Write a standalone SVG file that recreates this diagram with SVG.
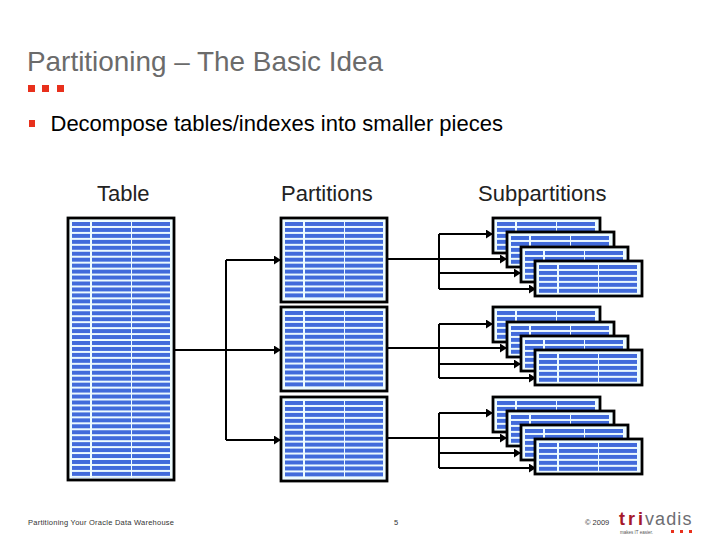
<svg xmlns="http://www.w3.org/2000/svg" width="720" height="540" viewBox="0 0 720 540">
<style>
text{font-family:"Liberation Sans",Arial,sans-serif}
.title{font-size:27.900px;fill:#6b6b6b}
.body{font-size:22px;fill:#000}
.head{font-size:22px;fill:#222}
.foot{font-size:7.500px;fill:#333;letter-spacing:.24px}
.frame{fill:#eefcff;stroke:#000;stroke-width:2.800}
.sq{fill:#e8301c}
.conn{fill:none;stroke:#000;stroke-width:2}
</style>
<defs>
<pattern id="rows" patternUnits="userSpaceOnUse" x="4" y="4" width="100" height="5.950">
<rect x="0" y="0" width="18" height="4" fill="#416bdb"/>
<rect x="20" y="0" width="39" height="4" fill="#416bdb"/>
<rect x="60" y="0" width="38" height="4" fill="#416bdb"/>
</pattern>
<marker id="arr" markerUnits="userSpaceOnUse" markerWidth="8" markerHeight="9" refX="7" refY="4.500" orient="auto">
<path d="M0 0L7 4.500L0 9Z" fill="#000"/>
</marker>
<g id="sub"><rect class="frame" width="107" height="35"/><rect x="4" y="4" width="99" height="28" fill="url(#rows)"/></g>
<g id="part"><rect class="frame" width="106" height="84"/><rect x="4" y="4" width="98" height="77" fill="url(#rows)"/></g>
</defs>

<rect width="720" height="540" fill="#fff"/>
<text class="title" x="27" y="71">Partitioning – The Basic Idea</text>
<g id="title-squares" class="sq">
<rect x="28" y="85" width="7" height="7"/><rect x="42" y="85" width="7" height="7"/><rect x="57" y="85" width="7" height="7"/>
</g>
<rect class="sq" x="29" y="120" width="6" height="7"/>
<text class="body" x="50.500" y="131">Decompose tables/indexes into smaller pieces</text>
<text class="head" x="97" y="201">Table</text>
<text class="head" x="281" y="201">Partitions</text>
<text class="head" x="478" y="201">Subpartitions</text>

<g id="connectors">
<path class="conn" d="M226 260V440"/>
<path class="conn" marker-end="url(#arr)" d="M226 260H281"/>
<path class="conn" marker-end="url(#arr)" d="M174 350H281"/>
<path class="conn" marker-end="url(#arr)" d="M226 440H281"/>

<path class="conn" d="M439 234V289"/>
<path class="conn" marker-end="url(#arr)" d="M439 234H493"/>
<path class="conn" marker-end="url(#arr)" d="M387 259H507"/>
<path class="conn" marker-end="url(#arr)" d="M439 273H521"/>
<path class="conn" marker-end="url(#arr)" d="M439 289H536"/>

<path class="conn" d="M439 324V378"/>
<path class="conn" marker-end="url(#arr)" d="M439 324H493"/>
<path class="conn" marker-end="url(#arr)" d="M387 348H507"/>
<path class="conn" marker-end="url(#arr)" d="M439 364H521"/>
<path class="conn" marker-end="url(#arr)" d="M439 378H536"/>

<path class="conn" d="M439 413V468"/>
<path class="conn" marker-end="url(#arr)" d="M439 413H493"/>
<path class="conn" marker-end="url(#arr)" d="M387 438H507"/>
<path class="conn" marker-end="url(#arr)" d="M439 453H521"/>
<path class="conn" marker-end="url(#arr)" d="M439 468H536"/>
</g>

<g id="table" transform="translate(68 218)"><rect class="frame" width="106" height="262"/><rect x="4" y="4" width="98" height="256" fill="url(#rows)"/></g>

<use id="partition-1" href="#part" x="281" y="218"/>
<use id="partition-2" href="#part" x="281" y="307"/>
<use id="partition-3" href="#part" x="281" y="397"/>

<g id="subpartitions-1">
<use id="sub-1-1" href="#sub" x="493" y="218"/>
<use id="sub-1-2" href="#sub" x="507" y="232"/>
<use id="sub-1-3" href="#sub" x="521" y="247"/>
<use id="sub-1-4" href="#sub" x="535" y="261"/>
</g>
<g id="subpartitions-2">
<use id="sub-2-1" href="#sub" x="493" y="307"/>
<use id="sub-2-2" href="#sub" x="507" y="322"/>
<use id="sub-2-3" href="#sub" x="521" y="336"/>
<use id="sub-2-4" href="#sub" x="535" y="350"/>
</g>
<g id="subpartitions-3">
<use id="sub-3-1" href="#sub" x="493" y="397"/>
<use id="sub-3-2" href="#sub" x="507" y="411"/>
<use id="sub-3-3" href="#sub" x="521" y="425"/>
<use id="sub-3-4" href="#sub" x="535" y="439"/>
</g>

<text class="foot" x="28" y="525">Partitioning Your Oracle Data Warehouse</text>
<text class="foot" x="394" y="525" style="letter-spacing:0">5</text>
<text class="foot" x="585" y="525" style="letter-spacing:0">© 2009</text>
<g id="logo">
<text x="619" y="525" style="font-size:18px;font-weight:bold;fill:#a5182a;letter-spacing:3px">tri</text>
<text x="645" y="525" style="font-size:18px;fill:#6d6d72;letter-spacing:1.100px">vadis</text>
<text x="620" y="534" style="font-size:4.500px;fill:#555">makes IT easier.</text>
<rect class="sq" x="671" y="530" width="3" height="3"/><rect class="sq" x="680" y="530" width="3" height="3"/><rect class="sq" x="689" y="530" width="3" height="3"/>
</g>
</svg>
